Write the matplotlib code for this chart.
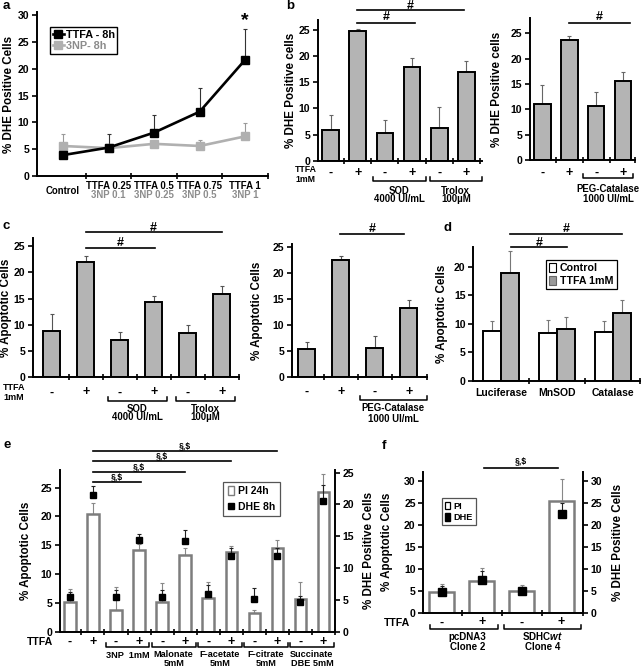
import matplotlib
matplotlib.use('Agg')
import matplotlib.pyplot as plt
from matplotlib.lines import Line2D
from matplotlib.patches import Patch
import numpy as np

plt.rcParams['font.family'] = ['Liberation Sans', 'DejaVu Sans']
plt.rcParams['font.weight'] = 'bold'
plt.rcParams['axes.labelweight'] = 'bold'
plt.rcParams['mathtext.fontset'] = 'custom'
plt.rcParams['mathtext.rm'] = 'Liberation Sans:bold'
plt.rcParams['mathtext.it'] = 'Liberation Sans:bold:italic'

# ---------------- data ----------------
a_ttfa_labels = ['Control', 'TTFA 0.25', 'TTFA 0.5', 'TTFA 0.75', 'TTFA 1']
a_3np_labels = ['', '3NP 0.1', '3NP 0.25', '3NP 0.5', '3NP 1']
a_ttfa = [3.9, 5.3, 8.1, 12.0, 21.7]
a_ttfa_err = [0.6, 2.6, 3.2, 4.4, 5.8]
a_3np = [5.6, 5.2, 6.0, 5.6, 7.4]
a_3np_err = [2.3, 0.6, 0.8, 1.1, 2.5]

b1_vals = [5.8, 24.8, 5.3, 18.0, 6.3, 17.0]
b1_err = [2.9, 0.4, 2.4, 1.7, 3.9, 2.0]
b1_signs = ['-', '+', '-', '+', '-', '+']
b2_vals = [11.0, 23.6, 10.6, 15.6]
b2_err = [3.8, 0.8, 2.8, 1.7]
b2_signs = ['-', '+', '-', '+']

c1_vals = [8.9, 22.0, 7.1, 14.4, 8.4, 15.8]
c1_err = [3.1, 1.1, 1.6, 1.1, 1.5, 1.7]
c2_vals = [5.4, 22.4, 5.7, 13.2]
c2_err = [1.4, 0.9, 2.3, 1.6]

d_groups = ['Luciferase', 'MnSOD', 'Catalase']
d_control = [8.7, 8.3, 8.6]
d_control_err = [1.8, 2.4, 1.9]
d_ttfa = [18.9, 9.0, 11.8]
d_ttfa_err = [3.8, 2.2, 2.4]

e_signs = ['-', '+'] * 6
e_groups = ['3NP  1mM', 'Malonate\n5mM', 'F-acetate\n5mM', 'F-citrate\n5mM', 'Succinate\nDBE 5mM']
e_pi = [5.2, 20.4, 3.8, 14.2, 5.2, 13.3, 5.8, 13.9, 3.3, 14.6, 5.6, 24.3]
e_pi_err = [2.2, 2.0, 4.0, 1.1, 3.2, 1.2, 2.8, 1.0, 0.5, 1.3, 3.1, 3.0]
e_dhe = [5.5, 21.5, 5.5, 14.4, 5.4, 14.2, 5.9, 11.9, 5.1, 11.9, 4.6, 20.5]
e_dhe_err = [0.8, 1.4, 1.0, 1.0, 1.2, 1.7, 1.5, 1.2, 1.7, 1.3, 1.0, 2.5]

f_signs = ['-', '+', '-', '+']
f_groups = ['pcDNA3\nClone 2', 'SDHC$\\mathit{wt}$\nClone 4']
f_pi = [4.6, 7.3, 4.9, 25.4]
f_pi_err = [1.9, 2.8, 1.4, 4.9]
f_dhe = [4.6, 7.4, 4.9, 22.4]
f_dhe_err = [1.5, 2.0, 1.0, 2.6]

# ---------------- layout helpers ----------------
W, H = 642, 668
fig = plt.figure(figsize=(W / 100, H / 100), dpi=100)

BAR_GRAY = '#b4b4b4'
EDGE_GRAY = '#7d7d7d'
TICK_FS = 7.6
LAB_FS = 6.9
SIGN_FS = 9
YLAB_FS = 8.4


def px_ax(box):
    l, t, r, b = box
    return fig.add_axes([l / W, 1 - b / H, (r - l) / W, (b - t) / H])


def yf(box, ypix):
    l, t, r, b = box
    return (b - ypix) / (b - t)


def xf(box, xpix):
    l, t, r, b = box
    return (xpix - l) / (r - l)


def style(ax, xlim, ylim, yticks, xticks):
    ax.set_xlim(*xlim)
    ax.set_ylim(*ylim)
    ax.set_yticks(yticks)
    ax.set_xticks(xticks)
    ax.set_xticklabels([])
    ax.spines['top'].set_visible(False)
    ax.spines['right'].set_visible(False)
    ax.spines['left'].set_linewidth(1.4)
    ax.spines['bottom'].set_linewidth(1.4)
    ax.tick_params(axis='y', direction='out', length=3.5, width=1.2,
                   labelsize=TICK_FS, pad=2)
    ax.tick_params(axis='x', direction='inout', length=5, width=1.2)
    ax.patch.set_alpha(0)


def xtext(ax, box, x, ypix, s, fs=LAB_FS, **kw):
    ax.text(x, yf(box, ypix), s, transform=ax.get_xaxis_transform(),
            ha='center', va='center', fontsize=fs, **kw)


def atext(ax, box, xpix, ypix, s, fs=LAB_FS, ha='left', **kw):
    ax.text(xf(box, xpix), yf(box, ypix), s, transform=ax.transAxes,
            ha=ha, va='center', fontsize=fs, **kw)


def sig(ax, box, x0, x1, ypix, label, lpix, fs=9):
    yy = yf(box, ypix)
    ax.plot([x0, x1], [yy, yy], color='black', lw=1.2,
            transform=ax.get_xaxis_transform(), clip_on=False)
    ax.text((x0 + x1) / 2, yf(box, lpix), label, transform=ax.get_xaxis_transform(),
            ha='center', va='center', fontsize=fs)


def bracket(ax, box, x0, x1, ypix, h=4):
    y0 = yf(box, ypix)
    y1 = yf(box, ypix - h)
    ax.plot([x0, x0, x1, x1], [y1, y0, y0, y1], color='black', lw=1.1,
            transform=ax.get_xaxis_transform(), clip_on=False)


def panel_label(s, xpix, ypix):
    fig.text(xpix / W, 1 - ypix / H, s, fontsize=9.5, fontweight='bold',
             ha='left', va='top')


def up_err(ax, x, vals, errs, color='#555555', lw=0.8, cap=1.5):
    ax.errorbar(x, vals, yerr=[np.zeros(len(vals)), errs], fmt='none',
                ecolor=color, elinewidth=lw, capsize=cap, capthick=lw, zorder=1)


# ================= panel a =================
box_a = (37, 12, 268, 176)
ax = px_ax(box_a)
xa = np.arange(len(a_ttfa))
style(ax, (-0.57, 4.5), (0, 30.6), range(0, 31, 5), np.arange(0.5, 4.6, 1))
up_err(ax, xa, a_3np, a_3np_err, color='#9a9a9a')
up_err(ax, xa, a_ttfa, a_ttfa_err, color='#333333')
ax.plot(xa, a_3np, color='#b0b0b0', lw=1.9, marker='s', ms=5.8, zorder=3)
ax.plot(xa, a_ttfa, color='black', lw=1.9, marker='s', ms=5.8, zorder=4)
for i in xa:
    if a_3np_labels[i]:
        xtext(ax, box_a, i, 186, a_ttfa_labels[i], fs=6.9)
        xtext(ax, box_a, i, 194.5, a_3np_labels[i], fs=6.9, color='#8c8c8c')
    else:
        xtext(ax, box_a, i, 191, a_ttfa_labels[i], fs=6.9)
ax.text(4, 29.0, '*', ha='center', va='center', fontsize=14, fontweight='bold')
ax.set_ylabel('% DHE Positive Cells', fontsize=YLAB_FS)
ax.yaxis.set_label_coords(xf(box_a, 15), 0.5)
h = [Line2D([0], [0], color='black', lw=1.9, marker='s', ms=5.8),
     Line2D([0], [0], color='#b0b0b0', lw=1.9, marker='s', ms=5.8)]
leg = ax.legend(h, ['TTFA - 8h', '3NP- 8h'], loc='upper left',
                bbox_to_anchor=(50 / W, 1 - 27 / H), bbox_transform=fig.transFigure,
                fontsize=7.8, frameon=True, fancybox=False, edgecolor='black',
                framealpha=1, handlelength=1.0, handletextpad=0.2,
                borderpad=0.25, labelspacing=0.12, borderaxespad=0)
leg.get_frame().set_linewidth(1.0)
leg.get_texts()[1].set_color('#8c8c8c')
panel_label('a', 3, 0)

# ================= panel b left =================
box_b1 = (318, 20, 481.7, 160.7)
ax = px_ax(box_b1)
xb = np.arange(len(b1_vals))
style(ax, (-0.46, 5.56), (0, 26.9), range(0, 26, 5), np.arange(0.5, 5.6, 1))
ax.bar(xb, b1_vals, 0.61, color=BAR_GRAY, edgecolor='black', linewidth=1.4, zorder=2)
up_err(ax, xb, b1_vals, b1_err, color='#666666')
for i, s in enumerate(b1_signs):
    xtext(ax, box_b1, i, 173, s, fs=SIGN_FS)
atext(ax, box_b1, 295, 169.8, 'TTFA', fs=6.3)
atext(ax, box_b1, 295, 179.2, '1mM', fs=6.3)
bracket(ax, box_b1, 1.56, 3.5, 181)
bracket(ax, box_b1, 3.66, 5.56, 181)
xtext(ax, box_b1, 2.53, 190.5, 'SOD')
xtext(ax, box_b1, 2.53, 199.5, '4000 UI/mL')
xtext(ax, box_b1, 4.61, 190.5, 'Trolox')
xtext(ax, box_b1, 4.61, 199.5, '100\u00b5M')
sig(ax, box_b1, 0.97, 4.9, 10, '#', 6)
sig(ax, box_b1, 0.97, 3.1, 22.7, '#', 17.5)
ax.set_ylabel('% DHE Positive cells', fontsize=YLAB_FS)
ax.yaxis.set_label_coords(xf(box_b1, 297), 0.5)
panel_label('b', 286, 0)

# ================= panel b right =================
box_b2 = (530, 18, 635, 160)
ax = px_ax(box_b2)
xb2 = np.arange(len(b2_vals))
style(ax, (-0.46, 3.44), (0, 28.0), range(0, 26, 5), [0.5, 1.5, 2.5, 3.44])
ax.bar(xb2, b2_vals, 0.61, color=BAR_GRAY, edgecolor='black', linewidth=1.4, zorder=2)
up_err(ax, xb2, b2_vals, b2_err, color='#666666')
for i, s in enumerate(b2_signs):
    xtext(ax, box_b2, i, 173, s, fs=SIGN_FS)
bracket(ax, box_b2, 1.52, 3.36, 177.5)
xtext(ax, box_b2, 2.44, 188.5, 'PEG-Catalase')
xtext(ax, box_b2, 2.44, 198.5, '1000 UI/mL')
sig(ax, box_b2, 1.0, 3.25, 22.7, '#', 17.5)
ax.set_ylabel('% DHE Positive cells', fontsize=YLAB_FS)
ax.yaxis.set_label_coords(xf(box_b2, 503), 0.5)

# ================= panel c left =================
box_c1 = (33, 238.3, 239.3, 377.3)
ax = px_ax(box_c1)
xc = np.arange(len(c1_vals))
style(ax, (-0.55, 5.52), (0, 26.5), range(0, 26, 5), np.arange(0.5, 5.6, 1))
ax.bar(xc, c1_vals, 0.5, color=BAR_GRAY, edgecolor='black', linewidth=1.4, zorder=2)
up_err(ax, xc, c1_vals, c1_err, color='#555555')
for i, s in enumerate(b1_signs):
    xtext(ax, box_c1, i, 392.5, s, fs=SIGN_FS)
atext(ax, box_c1, 3, 388, 'TTFA', fs=6.5)
atext(ax, box_c1, 3, 397.8, '1mM', fs=6.5)
bracket(ax, box_c1, 1.66, 3.38, 400.5)
bracket(ax, box_c1, 3.67, 5.39, 400.5)
xtext(ax, box_c1, 2.52, 408.5, 'SOD')
xtext(ax, box_c1, 2.52, 417.5, '4000 UI/mL')
xtext(ax, box_c1, 4.53, 408.5, 'Trolox')
xtext(ax, box_c1, 4.53, 417.5, '100\u00b5M')
sig(ax, box_c1, 1.0, 5.0, 232.3, '#', 228.3)
sig(ax, box_c1, 1.0, 3.05, 247.7, '#', 243.0)
ax.set_ylabel('% Apoptotic Cells', fontsize=YLAB_FS)
ax.yaxis.set_label_coords(xf(box_c1, 12), 0.5)
panel_label('c', 3, 220)

# ================= panel c right =================
box_c2 = (291.7, 244.3, 426.7, 377.3)
ax = px_ax(box_c2)
xc2 = np.arange(len(c2_vals))
style(ax, (-0.44, 3.53), (0, 25.5), range(0, 26, 5), [0.5, 1.5, 2.5, 3.53])
ax.bar(xc2, c2_vals, 0.5, color=BAR_GRAY, edgecolor='black', linewidth=1.4, zorder=2)
up_err(ax, xc2, c2_vals, c2_err, color='#555555')
for i, s in enumerate(b2_signs):
    xtext(ax, box_c2, i, 391.5, s, fs=SIGN_FS)
bracket(ax, box_c2, 1.57, 3.54, 399.5)
xtext(ax, box_c2, 2.55, 408, 'PEG-Catalase')
xtext(ax, box_c2, 2.55, 419, '1000 UI/mL')
sig(ax, box_c2, 0.97, 2.86, 234.3, '#', 228.5)
ax.set_ylabel('% Apoptotic Cells', fontsize=YLAB_FS)
ax.yaxis.set_label_coords(xf(box_c2, 263), 0.5)

# ================= panel d =================
box_d = (473.3, 246.7, 640, 380.7)
ax = px_ax(box_d)
xd = np.arange(len(d_groups))
wd = 0.32
style(ax, (-0.5, 2.49), (0, 23.5), range(0, 21, 5), [0.5, 1.5, 2.49])
ax.bar(xd - wd / 2, d_control, wd, color='white', edgecolor='black', linewidth=1.4,
       zorder=2)
ax.bar(xd + wd / 2, d_ttfa, wd, color=BAR_GRAY, edgecolor='black', linewidth=1.4,
       zorder=2)
up_err(ax, xd - wd / 2, d_control, d_control_err, color='#777777')
up_err(ax, xd + wd / 2, d_ttfa, d_ttfa_err, color='#777777')
for i, g in enumerate(d_groups):
    xtext(ax, box_d, i, 392.5, g, fs=7.5)
sig(ax, box_d, 0.16, 2.16, 234, '#', 228.5)
sig(ax, box_d, 0.18, 1.18, 247.3, '#', 242.5)
h = [Patch(facecolor='white', edgecolor='black', linewidth=0.8),
     Patch(facecolor='#999999', edgecolor='#666666', linewidth=0.8)]
leg = ax.legend(h, ['Control', 'TTFA 1mM'], loc='upper left',
                bbox_to_anchor=(546 / W, 1 - 260 / H), bbox_transform=fig.transFigure,
                fontsize=7.7, frameon=True, fancybox=False, edgecolor='black',
                framealpha=1, handlelength=0.6, handleheight=0.9, handletextpad=0.4,
                borderpad=0.3, labelspacing=0.25, borderaxespad=0)
leg.get_frame().set_linewidth(0.9)
ax.set_ylabel('% Apoptotic Cells', fontsize=YLAB_FS)
ax.yaxis.set_label_coords(xf(box_d, 448.5), 0.5)
panel_label('d', 443, 222)

# ================= panel e =================
box_e = (60, 470, 335, 631.7)
ax = px_ax(box_e)
xe = np.arange(len(e_pi))
style(ax, (-0.43, 11.47), (0, 28.07), range(0, 26, 5), np.arange(0.5, 11.6, 1))
ax.bar(xe, e_pi, 0.5, color='white', edgecolor=EDGE_GRAY, linewidth=1.8, zorder=2)
up_err(ax, xe, e_pi, e_pi_err, color='#888888')
axr = ax.twinx()
axr.set_ylim(0, 25.4)
axr.set_yticks(range(0, 26, 5))
for s in ['top', 'left', 'bottom']:
    axr.spines[s].set_visible(False)
axr.spines['right'].set_linewidth(1.4)
axr.tick_params(axis='y', direction='out', length=3.5, width=1.2,
                labelsize=TICK_FS, pad=2)
up_err(axr, xe, e_dhe, e_dhe_err, color='#222222')
axr.plot(xe, e_dhe, ls='none', marker='s', ms=5.0, color='black', zorder=4)
for i, s in enumerate(e_signs):
    xtext(ax, box_e, i, 642, s, fs=SIGN_FS)
atext(ax, box_e, 27, 642, 'TTFA', fs=7.6)
for k, g in enumerate(e_groups):
    bracket(ax, box_e, 2 * k + 1.55, 2 * k + 3.45, 647)
    xtext(ax, box_e, 2 * k + 2.5, 659 if '\n' in g else 655.5, g, fs=6.6,
          linespacing=1.0)
sig(ax, box_e, 1.0, 9.0, 451, '\u00a7,$', 446, fs=6.2)
sig(ax, box_e, 1.0, 7.0, 460.7, '\u00a7,$', 456.0, fs=6.2)
sig(ax, box_e, 1.0, 5.0, 471.7, '\u00a7,$', 467.0, fs=6.2)
sig(ax, box_e, 1.0, 3.1, 481.7, '\u00a7,$', 477.0, fs=6.2)
ax.set_ylabel('% Apoptotic Cells', fontsize=YLAB_FS)
ax.yaxis.set_label_coords(xf(box_e, 32), 0.5)
axr.set_ylabel('% DHE Positive Cells', fontsize=YLAB_FS)
axr.yaxis.set_label_coords(xf(box_e, 363), 0.5)
h = [Patch(facecolor='white', edgecolor=EDGE_GRAY, linewidth=1.0),
     Line2D([0], [0], ls='none', marker='s', ms=5, color='black')]
leg = axr.legend(h, ['PI 24h', 'DHE 8h'], loc='upper left',
                 bbox_to_anchor=(223.3 / W, 1 - 481.7 / H), bbox_transform=fig.transFigure,
                 fontsize=7.5, frameon=True, fancybox=False, edgecolor='#555555',
                 framealpha=1, handlelength=0.6, handleheight=0.9, handletextpad=0.4,
                 borderpad=0.45, labelspacing=0.5, borderaxespad=0)
leg.get_frame().set_linewidth(0.9)
panel_label('e', 4, 439)

# ================= panel f =================
box_f = (423.3, 471.7, 582.7, 612.7)
ax = px_ax(box_f)
xfv = np.arange(len(f_pi))
style(ax, (-0.46, 3.53), (0, 32.0), range(0, 31, 5), [0.5, 1.5, 2.5, 3.53])
ax.bar(xfv, f_pi, 0.62, color='white', edgecolor=EDGE_GRAY, linewidth=1.8, zorder=2)
up_err(ax, xfv, f_pi, f_pi_err, color='#888888')
axr = ax.twinx()
axr.set_ylim(0, 32.0)
axr.set_yticks(range(0, 31, 5))
for s in ['top', 'left', 'bottom']:
    axr.spines[s].set_visible(False)
axr.spines['right'].set_linewidth(1.4)
axr.tick_params(axis='y', direction='out', length=3.5, width=1.2,
                labelsize=TICK_FS, pad=2)
up_err(axr, xfv, f_dhe, f_dhe_err, color='#222222')
axr.plot(xfv, f_dhe, ls='none', marker='s', ms=5.4, color='black', zorder=4)
for i, s in enumerate(f_signs):
    xtext(ax, box_f, i, 622.5, s, fs=SIGN_FS)
atext(ax, box_f, 384, 623.3, 'TTFA', fs=7.6)
bracket(ax, box_f, -0.28, 1.42, 629)
bracket(ax, box_f, 1.56, 3.48, 629)
xtext(ax, box_f, 0.65, 641.5, f_groups[0], fs=7.0, linespacing=1.0)
xtext(ax, box_f, 2.52, 641.5, f_groups[1], fs=7.0, linespacing=1.0)
sig(ax, box_f, 1.07, 2.9, 467.7, '\u00a7,$', 461, fs=6.2)
ax.set_ylabel('% Apoptotic Cells', fontsize=YLAB_FS)
ax.yaxis.set_label_coords(xf(box_f, 393), 0.5)
axr.set_ylabel('% DHE Positive Cells', fontsize=YLAB_FS)
axr.yaxis.set_label_coords(xf(box_f, 612), 0.5)
h = [Patch(facecolor='white', edgecolor='black', linewidth=0.9),
     Patch(facecolor='black', edgecolor='black')]
leg = axr.legend(h, ['PI', 'DHE'], loc='upper left',
                 bbox_to_anchor=(441.7 / W, 1 - 498.3 / H), bbox_transform=fig.transFigure,
                 fontsize=6.6, frameon=True, fancybox=False, edgecolor='#555555',
                 framealpha=1, handlelength=0.6, handleheight=0.9, handletextpad=0.3,
                 borderpad=0.35, labelspacing=0.3, borderaxespad=0)
leg.get_frame().set_linewidth(0.9)
panel_label('f', 382, 440)

fig.savefig('out.png', dpi=100)
